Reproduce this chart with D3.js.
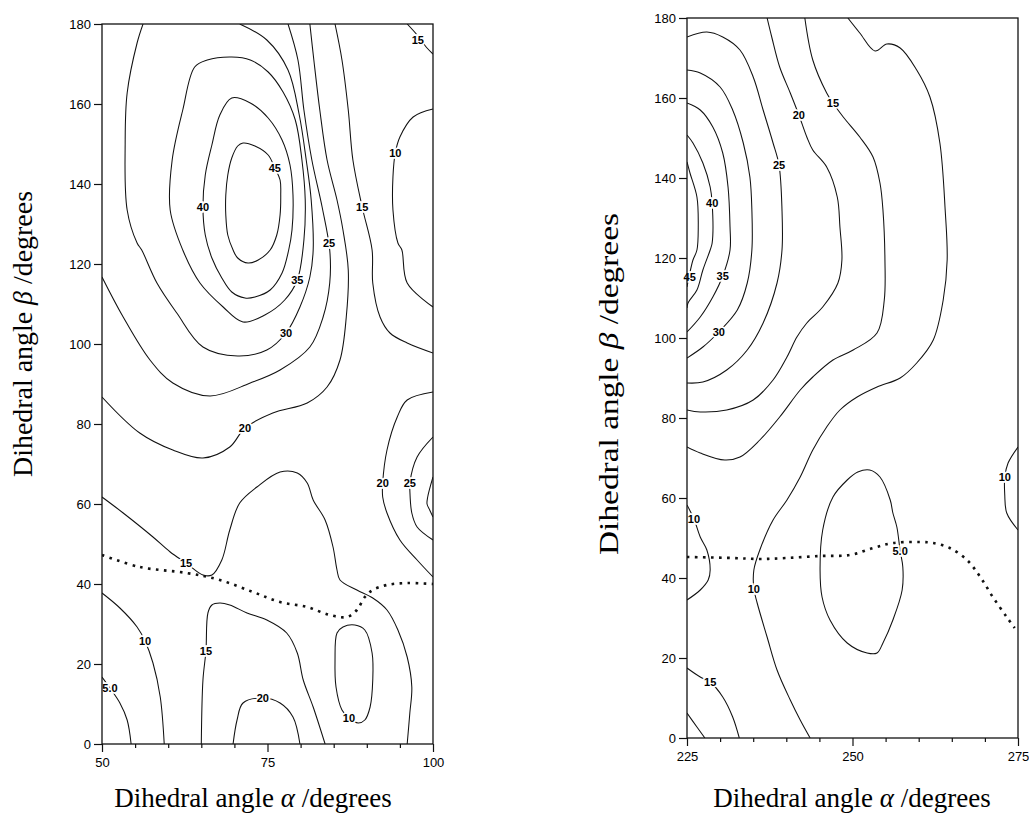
<!DOCTYPE html>
<html><head><meta charset="utf-8">
<script src="https://cdn.jsdelivr.net/npm/d3@7"></script>
<style>body{margin:0;background:#fff;} svg{display:block;}</style>
</head><body>
<svg id="chart" width="1029" height="817"></svg>
<script>
// ---------- axis data ----------
const yTicks = [0, 20, 40, 60, 80, 100, 120, 140, 160, 180];
const leftXMajor = [50, 75, 100];
const leftXMinor = [55, 60, 65, 70, 80, 85, 90, 95];
const rightXMajor = [225, 250, 275];
const rightXMinor = [230, 235, 240, 245, 255, 260, 265, 270];
const xTitle = "Dihedral angle ";
const yTitle = "Dihedral angle ";

// ---------- left panel contours [alpha, beta] ----------
const L45 = [[71.3,150.25],[73.1,149.5],[75.1,147.25],[76.1,144],[76.9,141],[77.0,137.25],[76.9,132.25],[76.4,127.25],[75.4,123.5],[73.6,121],[72.05,120.25],[70.5,121.5],[69.8,123.5],[69.0,127.25],[68.7,132.25],[68.7,137.25],[69.0,142.25],[69.6,146.5],[70.5,149.5]];
const L40 = [[69.6,161.5],[72.4,160.25],[75.1,156.5],[77.2,151],[78.4,144.75],[78.85,137.25],[78.7,128.5],[78.2,123.5],[77.2,117.75],[75.4,113.5],[73.1,111.75],[71.6,111.5],[69.6,113],[68.1,116.5],[66.6,121.5],[65.6,127.25],[65.25,134.25],[65.6,142.25],[66.6,149.75],[67.8,157.25]];
const L35 = [[69.6,171.75],[72.4,171],[75.1,168],[77.35,163],[79.2,156],[80.2,146],[80.7,136],[80.5,126],[79.5,116],[77.6,111],[74.6,107.25],[71.3,105.5],[68.3,109.25],[64.8,115.25],[62.2,123.5],[60.3,133.5],[60.6,146],[62.2,158.5],[64.0,169.25],[65.9,171]];
const L30 = [[56.2,180],[55.3,175.25],[53.8,162.75],[53.5,150.25],[53.8,133.5],[55.3,125.25],[56.0,123.5],[58.3,115.25],[61.3,107.75],[65.25,99.25],[70.5,97],[74.9,98.5],[77.8,102.75],[79.9,109.25],[81.4,116.75],[81.9,123.5],[81.6,136],[80.85,146],[79.8,157.25],[78.1,168.5],[74.9,176],[70.8,180]];
const L25 = [[50,116.75],[53.2,106.75],[57.25,96],[60.7,90.25],[66.3,87],[72.4,90.25],[76.9,93.5],[81.4,99.25],[83.4,106.75],[84.4,115.25],[84.4,123.5],[83.25,134.25],[81.7,146],[80.5,158.5],[79.6,171],[78.1,180]];
const L20 = [[50,86.75],[55.7,77.75],[60.7,73.5],[65.25,71.5],[69.3,74.25],[71.6,79],[75.8,82.75],[81.0,85.25],[84.0,89.25],[85.95,96],[86.9,106.75],[87.2,118.5],[86.4,128.5],[85.5,136],[84.0,146],[82.9,158.5],[82.0,171],[81.4,180]];
const L15a = [[85.2,180],[86.25,171],[87.2,158.5],[87.9,146],[89.3,134.25],[90.8,123.5],[90.9,115.25],[92.0,106.75],[93.5,102.75],[96.1,100.25],[100,97.75]];
const L10a = [[100,158.75],[97.0,156.75],[95.0,151.75],[94.3,147.75],[93.95,141.75],[93.95,133.5],[94.7,125.25],[95.3,123.5],[96.1,115.25],[100,109.25]];
const L15b = [[96.1,180],[97.6,177.25],[99.1,174],[100,172.5]];
const L20b = [[100,88],[96.1,86],[94.6,81.75],[93.05,73.5],[92.4,65.25],[92.4,61.75],[93.05,57.75],[95.0,51],[97.6,46],[100,41.75]];
const L25b = [[100,76.75],[97.6,71.75],[96.5,65.25],[96.5,63.5],[96.8,57.75],[97.6,54.25],[100,51]];
const L30b = [[100,66.75],[99.2,61.75],[99.1,60],[99.5,58.5],[100,56.75]];
const L15c = [[50,61.75],[53.2,57.75],[57.7,51.75],[60.3,48],[62.7,45.25],[65.25,42.25],[66.6,42.25],[68.1,46],[69.3,53.5],[70.8,60.25],[73.4,64.25],[76.9,68],[79.5,67.75],[81.0,65.25],[81.9,61],[83.7,56],[84.9,49.25],[85.5,43.5],[85.95,41],[88.5,38.5],[90.9,36.5],[93.05,33.5],[94.7,28.5],[96.1,21.75],[96.8,14.25],[96.5,7.75],[96.1,0]];
const L15d = [[65.0,0],[65.25,16],[65.7,23.25],[66.0,32.75],[66.6,34.75],[67.8,35.25],[69.3,34.75],[71.9,32.75],[74.9,31],[77.9,27.75],[79.5,22.75],[80.4,16],[81.9,9.25],[83.7,0]];
const L20c = [[69.8,0],[70.4,6],[71.3,10.25],[74.3,11.5],[76.9,10.25],[78.85,6.75],[79.9,0]];
const L10b = [[88.2,29.75],[89.7,28.5],[90.8,22.75],[90.9,16],[90.5,9.25],[89.7,6],[88.7,5.25],[87.3,6.5],[86.25,8.5],[85.35,14.25],[85.2,21],[85.5,27.75],[86.4,29.25]];
const L10c = [[50,37.75],[52.7,34],[55.3,29.25],[56.5,25.75],[57.7,20.25],[58.8,11.75],[59.4,0]];
const L05 = [[50,16.75],[51.2,14],[52.7,10.25],[53.8,6],[54.4,0]];
const LDot = [[50,47.25],[55.7,44.25],[62.8,42.75],[67.8,41],[72.8,38],[76.9,35.5],[81.0,34.25],[84.4,32.25],[87.0,31.75],[88.5,33.5],[89.7,36.75],[90.9,38.5],[93.05,39.75],[96.1,40.25],[100,40]];

const leftClosed = [L45, L40, L35, L10b];
const leftOpen = [L30, L25, L20, L15a, L10a, L15b, L20b, L25b, L30b, L15c, L15d, L20c, L10c, L05];
const leftLabelText = ["45","40","35","30","25","20","15","10","15","20","25","15","15","10","5.0","20","10"];
const leftLabelPos = [[76.1,144],[65.25,134.25],[79.5,116],[77.8,102.75],[84.3,125.25],[71.6,79],[89.3,134.25],[94.3,147.75],[97.7,176],[92.4,65.25],[96.5,65.25],[62.7,45.25],[65.7,23.25],[56.5,25.75],[51.2,14],[74.3,11.5],[87.3,6.5]];

// ---------- right panel contours [alpha, beta] ----------
const R45 = [[225,144],[225.45,141.25],[226.5,135.25],[226.7,127.75],[226.5,122],[225.9,119.5],[225.3,115.25],[225,112.75]];
const R40 = [[225,150.75],[225.9,148.75],[227.4,143.75],[228.5,137.75],[228.8,133.75],[228.8,123.75],[228.5,122],[227.4,117],[226.5,112],[225.15,108.75],[225,107.5]];
const R35 = [[225,158.75],[227,157],[228.9,152.75],[230.4,146.25],[231.2,137.75],[231.5,127.75],[231.5,122],[230.4,115.5],[228.9,110.25],[227,105.25],[225,101.5]];
const R30 = [[225,167],[227,166.25],[230,162.75],[231.9,157],[233.5,148.75],[234.5,140.25],[234.8,132],[234.8,122],[234.1,113.75],[232.6,107],[229.8,101.5],[227.4,97.75],[225,95]];
const R25 = [[225,175.25],[228,176.5],[230.4,175.25],[233,172],[235,165.25],[236.5,157],[238,148.75],[238.9,143.25],[239.35,132],[239.35,122],[238.6,113.75],[236.5,103.75],[234.1,97],[231,92],[227.4,89],[225,88.75]];
const R20 = [[237.1,180],[237.8,175.25],[239,167.75],[240.6,161.25],[241.9,155.75],[243.1,150.25],[244,147],[246.1,142.75],[247.7,135.25],[248.1,127.75],[248.4,119.5],[247.8,113.75],[245.5,107.75],[243.1,103.75],[241.6,100.25],[240.1,95.25],[238,89.5],[235,84.5],[231,82],[227,81.5],[225,82]];
const R15 = [[242.8,180],[244,169.5],[246.1,161.25],[247.05,158.75],[248.6,155.25],[251.1,150.25],[253.1,145.25],[254.15,138.75],[254.6,132],[254.9,119.5],[254.8,109.5],[253.7,101.25],[250.1,97],[247.05,94.5],[244,90.25],[242.1,87],[239,80.25],[236,74.5],[233,70.25],[230.7,69.5],[227,71.25],[225,72.75]];
const R10 = [[249.3,180],[251.1,176.25],[253.4,171.75],[255.2,173.5],[257.2,172.5],[259.7,167],[261.7,160.25],[263.2,148.75],[264,132],[264.3,119.5],[263.7,109.5],[262.2,99.5],[259.7,93.75],[257.2,90],[253.7,87.75],[250.7,85.25],[248.1,82],[246.1,77.75],[244,72],[242.1,65.25],[240.1,59.5],[238,54.5],[236,47],[235.1,42],[235.1,37.25],[235.6,33.75],[237.1,25.25],[238.6,17],[240.6,9.5],[242.1,4.5],[243.6,0]];
const R05 = [[252.6,67],[254.15,65.25],[255.7,59.5],[256.1,56.25],[256.7,52.75],[257.2,46.75],[257.6,42.75],[257.5,37],[256.1,29.5],[254.6,23.75],[253.7,21.25],[252.2,21.25],[249.2,23.75],[246.6,29.5],[245.4,35.25],[245.1,42],[245.5,52],[247.05,60.25],[249.2,64.5],[250.8,66.5]];
const R10b = [[225,58.25],[226.05,54.75],[227,50.25],[228,47],[228.5,42],[228.2,39.5],[227,37],[225,34.5]];
const R15b = [[225,17.5],[227,15.25],[228.5,14],[230.4,10.25],[231.9,5.25],[232.9,0]];
const R20b = [[225,6.25],[226.5,2.75],[227.7,0]];
const R10c = [[275,72.75],[273.5,68.75],[273,65.25],[273,60.75],[273.3,56.25],[275,52]];
const RDot = [[225,45.25],[231.9,45],[236,44.75],[240.1,45],[245.1,45.5],[249.6,45.75],[253.1,47.5],[256.1,48.75],[260.2,49],[262.2,48.75],[264.7,47.5],[267.3,44.5],[269.3,40.25],[271.2,35.25],[273.3,30.25],[274.5,27.5]];

const rightClosed = [R05];
const rightOpen = [R45, R40, R35, R30, R25, R20, R15, R10, R10b, R15b, R20b, R10c];
const rightLabelText = ["45","40","35","30","25","20","15","10","5.0","10","15","10"];
const rightLabelPos = [[225.4,115.25],[228.8,133.75],[230.4,115.5],[229.8,101.5],[238.9,143.25],[241.9,155.75],[247.05,158.75],[235.1,37.25],[257.2,46.75],[226.05,54.75],[228.5,14],[273,65.25]];

// ---------- drawing ----------
const svg = d3.select("#chart");
svg.append("rect").attr("width",1029).attr("height",817).attr("fill","#fff");

function panel(cfg) {
  const x = d3.scaleLinear().domain(cfg.xd).range(cfg.xr);
  const y = d3.scaleLinear().domain([0,180]).range(cfg.yr);
  const g = svg.append("g");
  const clipId = "clip" + cfg.id;
  svg.append("clipPath").attr("id", clipId).append("rect")
    .attr("x", cfg.xr[0]).attr("y", cfg.yr[1])
    .attr("width", cfg.xr[1]-cfg.xr[0]).attr("height", cfg.yr[0]-cfg.yr[1]);

  const lineOpen = d3.line().x(d=>x(d[0])).y(d=>y(d[1])).curve(d3.curveCatmullRom.alpha(0.5));
  const lineClosed = d3.line().x(d=>x(d[0])).y(d=>y(d[1])).curve(d3.curveCatmullRomClosed.alpha(0.5));
  const cg = g.append("g").attr("clip-path", `url(#${clipId})`)
    .attr("fill","none").attr("stroke","#111").attr("stroke-width",1.05);
  cfg.open.forEach(p => cg.append("path").attr("d", lineOpen(p)));
  cfg.closed.forEach(p => cg.append("path").attr("d", lineClosed(p)));
  cg.append("path").attr("d", lineOpen(cfg.dot))
    .attr("stroke-width",2.6).attr("stroke-dasharray","2.6,5.4");

  // labels
  g.append("g").selectAll("text").data(cfg.labels).join("text")
    .attr("x", (d,i)=>x(cfg.labelPos[i][0])).attr("y", (d,i)=>y(cfg.labelPos[i][1]))
    .attr("text-anchor","middle").attr("dominant-baseline","central")
    .attr("font-family","'Liberation Sans', Arial, sans-serif")
    .attr("font-size",11).attr("font-weight","bold")
    .attr("stroke","#fff").attr("stroke-width",3.5).attr("paint-order","stroke")
    .attr("fill","#000").text(d=>d);

  // frame
  g.append("rect").attr("x", cfg.xr[0]).attr("y", cfg.yr[1])
    .attr("width", cfg.xr[1]-cfg.xr[0]).attr("height", cfg.yr[0]-cfg.yr[1])
    .attr("fill","none").attr("stroke","#111").attr("stroke-width",1.3);

  // axes
  const ay = g.append("g").attr("transform",`translate(${cfg.xr[0]},0)`)
    .call(d3.axisLeft(y).tickValues(yTicks).tickSize(8).tickPadding(3).tickFormat(d3.format("d")));
  const axMaj = g.append("g").attr("transform",`translate(0,${cfg.yr[0]})`)
    .call(d3.axisBottom(x).tickValues(cfg.major).tickSize(8).tickPadding(6).tickFormat(d3.format("d")));
  const axMin = g.append("g").attr("transform",`translate(0,${cfg.yr[0]})`)
    .call(d3.axisBottom(x).tickValues(cfg.minor).tickSize(4).tickFormat(""));
  [ay, axMaj, axMin].forEach(a => {
    a.select(".domain").remove();
    a.selectAll("line").attr("stroke","#111").attr("stroke-width",1.2);
    a.selectAll("text").attr("font-family","'Liberation Sans', Arial, sans-serif")
      .attr("font-size",13).attr("fill","#000");
  });

  // titles
  const xt = svg.append("text").attr("x", cfg.xtx).attr("y", 807)
    .attr("text-anchor","middle").attr("font-family","'Liberation Serif','Times New Roman',serif")
    .attr("font-size",27).attr("fill","#000");
  xt.append("tspan").text(xTitle);
  xt.append("tspan").attr("font-style","italic").text("α");
  xt.append("tspan").text(" /degrees");

  const yt = svg.append("text").attr("transform",`translate(${cfg.ytx},${cfg.yty}) rotate(-90)`)
    .attr("text-anchor","middle").attr("font-family","'Liberation Serif','Times New Roman',serif")
    .attr("font-size",27).attr("fill","#000")
    .attr("textLength", cfg.ylen).attr("lengthAdjust","spacingAndGlyphs");
  yt.append("tspan").text(yTitle);
  yt.append("tspan").attr("font-style","italic").text("β");
  yt.append("tspan").text(" /degrees");
}

panel({id:"L", xd:[50,100], xr:[102,433], yr:[744,24], major:leftXMajor, minor:leftXMinor,
  open:leftOpen, closed:leftClosed, dot:LDot, labels:leftLabelText, labelPos:leftLabelPos,
  xtx:253, ytx:32, yty:334, ylen:286});
panel({id:"R", xd:[225,275], xr:[687,1018], yr:[738,18], major:rightXMajor, minor:rightXMinor,
  open:rightOpen, closed:rightClosed, dot:RDot, labels:rightLabelText, labelPos:rightLabelPos,
  xtx:852, ytx:618, yty:384, ylen:342});
</script></body></html>
